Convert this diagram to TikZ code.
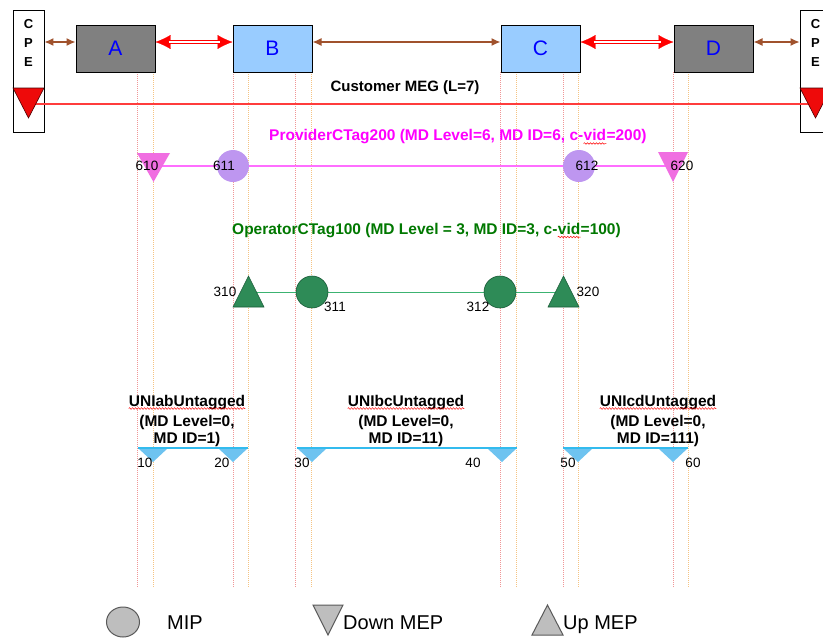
\documentclass[tikz,border=0pt]{standalone}
\usepackage{fontspec}
\setmainfont{Liberation Sans}
\usetikzlibrary{arrows.meta,decorations.pathmorphing}
\definecolor{brownarr}{RGB}{160,82,45}
\definecolor{boxgrey}{RGB}{128,128,128}
\definecolor{boxblue}{RGB}{153,204,255}
\definecolor{megred}{RGB}{255,60,60}
\definecolor{cpered}{RGB}{238,10,10}
\definecolor{guidepink}{RGB}{240,150,150}
\definecolor{guideorange}{RGB}{245,195,130}
\definecolor{provmag}{RGB}{255,0,255}
\definecolor{provline}{RGB}{255,110,255}
\definecolor{provtri}{RGB}{240,110,225}
\definecolor{provmip}{RGB}{190,150,240}
\definecolor{opgreen}{RGB}{0,120,0}
\definecolor{grfill}{RGB}{46,139,87}
\definecolor{grdark}{RGB}{25,90,55}
\definecolor{grline}{RGB}{60,179,113}
\definecolor{unline}{RGB}{51,187,238}
\definecolor{untri}{RGB}{110,195,240}
\definecolor{leggrey}{RGB}{190,190,190}
\definecolor{legdark}{RGB}{90,90,90}
\begin{document}
\begin{tikzpicture}[x=1pt,y=-1pt,
  nebox/.style={draw=black,line width=1pt,minimum width=79pt,minimum height=47pt,inner sep=0pt,text=blue,font=\fontsize{21}{21}\selectfont},
  cpebox/.style={draw=black,line width=0.8pt,fill=white,minimum width=31pt,minimum height=122pt,inner sep=0pt},
  cpetxt/.style={align=center,inner sep=0pt,font=\bfseries\fontsize{13}{19}\selectfont},
  guideA/.style={guidepink,line width=0.9pt,dash pattern=on 1pt off 1pt},
  guideB/.style={guideorange,line width=0.9pt,dash pattern=on 1pt off 1pt},
  brownarrow/.style={brownarr,line width=1.3pt,{Latex[length=9pt,width=8pt]}-{Latex[length=9pt,width=8pt]}},
  redtips/.style={red,line width=0.2pt,{Latex[length=15pt,width=14pt]}-{Latex[length=15pt,width=14pt]}},
  reddouble/.style={red,line width=1.2pt,double=white,double distance=2.4pt,shorten <=13pt,shorten >=13pt},
  megline/.style={megred,line width=1.2pt},
  cpetri/.style={fill=cpered,draw=black!70!red,line width=0.6pt},
  megtxt/.style={inner sep=0pt,font=\bfseries\fontsize{15}{18}\selectfont},
  provtxt/.style={anchor=base west,inner sep=0pt,text=provmag,font=\bfseries\fontsize{15.5}{18}\selectfont},
  optxt/.style={anchor=base west,inner sep=0pt,text=opgreen,font=\bfseries\fontsize{15.5}{18}\selectfont},
  unitxt/.style={anchor=base,inner sep=0pt,font=\bfseries\fontsize{15.5}{18}\selectfont},
  wavy/.style={red,line width=0.5pt,decorate,decoration={snake,amplitude=0.8pt,segment length=3pt}},
  provlink/.style={provline,line width=1.2pt},
  provtrist/.style={fill=provtri},
  provmipst/.style={circle,fill=provmip,minimum size=32pt,inner sep=0pt},
  grlink/.style={grline,line width=1pt},
  grtri/.style={fill=grfill,draw=grdark,line width=0.6pt},
  grmip/.style={circle,fill=grfill,draw=grdark,line width=0.6pt,minimum size=32pt,inner sep=0pt},
  unlink/.style={unline,line width=1.5pt},
  untrist/.style={fill=untri},
  numlbl/.style={inner sep=0pt,font=\fontsize{13.5}{16}\selectfont},
  legshape/.style={fill=leggrey,draw=legdark,line width=1pt},
  legtxt/.style={anchor=base west,inner sep=0pt,font=\fontsize{20}{24}\selectfont}
]
\useasboundingbox (0,0) rectangle (823,638);
\fill[white] (0,0) rectangle (823,638);
\clip (0,0) rectangle (823,638);

% guide lines
\foreach \xa/\xb in {137/153,233/248,295/311,500/516,563/578,673/688}{
  \draw[guideA] (\xa,72) -- (\xa,588);
  \draw[guideB] (\xb,72) -- (\xb,588);
}

% boxes
\node[nebox,fill=boxgrey] (A) at (115.5,48.5) {A};
\node[nebox,fill=boxblue] (B) at (272.5,48.5) {B};
\node[nebox,fill=boxblue] (C) at (540.5,48.5) {C};
\node[nebox,fill=boxgrey] (D) at (713.5,48.5) {D};
\node[cpebox] (cpeL) at (28.5,71) {};
\node[cpetxt] (cpeLt) at (28.5,43) {C\\P\\E};
\node[cpebox] (cpeR) at (815.5,71) {};
\node[cpetxt] (cpeRt) at (815.5,43) {C\\P\\E};

% top connectors
\coordinate (ya) at (0,42);
\draw[brownarrow] (cpeL.east |- ya) -- (A.west |- ya);
\draw[redtips] (A.east |- ya) -- (B.west |- ya);
\draw[reddouble] (A.east |- ya) -- (B.west |- ya);
\draw[brownarrow] (B.east |- ya) -- (C.west |- ya);
\draw[redtips] (C.east |- ya) -- (D.west |- ya);
\draw[reddouble] (C.east |- ya) -- (D.west |- ya);
\draw[brownarrow] (D.east |- ya) -- (cpeR.west |- ya);

% customer MEG
\coordinate (megL) at (30,104);
\coordinate (megR) at (815,104);
\draw[megline] (megL) -- (megR);
\filldraw[cpetri] (13,88) -- (44,88) -- (28.5,118) -- cycle;
\filldraw[cpetri] (800,88) -- (831,88) -- (815.5,118) -- cycle;
\node[megtxt] (megt) at (405,88) {Customer MEG (L=7)};

% provider MEG
\node[provtxt] (pv1) at (269,140.5) {ProviderCTag200 (MD Level=6, MD ID=6, c-};
\node[provtxt] (pv2) at (pv1.base east) {vid};
\node[provtxt] (pv3) at (pv2.base east) {=200)};
\draw[wavy] ([yshift=-3pt]pv2.base west) -- ([yshift=-3pt]pv2.base east);
\coordinate (t610) at (153.5,166);
\coordinate (t620) at (673,166);
\draw[provlink] (t610) -- (t620);
\fill[provtrist] (137,153) -- (170,153) -- (153.5,182) -- cycle;
\fill[provtrist] (658,152) -- (688,152) -- (673,182) -- cycle;
\node[provmipst] (m611) at (233,166) {};
\node[provmipst] (m612) at (579,166) {};
\node[numlbl] (l610) at (147,166) {610};
\node[numlbl] (l611) at (224,166) {611};
\node[numlbl] (l612) at (587,166) {612};
\node[numlbl] (l620) at (682,166) {620};

% operator MEG
\node[optxt] (op1) at (232,234) {OperatorCTag100 (MD Level = 3, MD ID=3, c-};
\node[optxt] (op2) at (op1.base east) {vid};
\node[optxt] (op3) at (op2.base east) {=100)};
\draw[wavy] ([yshift=-3pt]op2.base west) -- ([yshift=-3pt]op2.base east);
\coordinate (t310) at (248.5,292);
\coordinate (t320) at (563.5,292);
\draw[grlink] (t310) -- (t320);
\filldraw[grtri] (233,307) -- (264,307) -- (248.5,276) -- cycle;
\filldraw[grtri] (548,307) -- (579,307) -- (563.5,276) -- cycle;
\node[grmip] (m311) at (312,292) {};
\node[grmip] (m312) at (500,292) {};
\node[numlbl] (l310) at (225,292) {310};
\node[numlbl] (l320) at (588,292) {320};
\node[numlbl] (l311) at (335,307) {311};
\node[numlbl] (l312) at (478,307) {312};

% UNI MEGs
\foreach \cx in {153,233,312,502,578,673}{
  \fill[untrist] ({\cx-15},448) -- ({\cx+15},448) -- (\cx,462) -- cycle;
}
\coordinate (uL1) at (138,448);
\coordinate (uR1) at (248,448);
\coordinate (uL2) at (297,448);
\coordinate (uR2) at (517,448);
\coordinate (uL3) at (563,448);
\coordinate (uR3) at (688,448);
\draw[unlink] (uL1) -- (uR1);
\draw[unlink] (uL2) -- (uR2);
\draw[unlink] (uL3) -- (uR3);

\node[unitxt] (uab1) at (187,406) {UNIabUntagged};
\node[unitxt] (uab2) at (187,426) {(MD Level=0,};
\node[unitxt] (uab3) at (187,443) {MD ID=1)};
\node[unitxt] (ubc1) at (406,406) {UNIbcUntagged};
\node[unitxt] (ubc2) at (406,426) {(MD Level=0,};
\node[unitxt] (ubc3) at (406,443) {MD ID=11)};
\node[unitxt] (ucd1) at (658,406) {UNIcdUntagged};
\node[unitxt] (ucd2) at (658,426) {(MD Level=0,};
\node[unitxt] (ucd3) at (658,443) {MD ID=111)};
\draw[wavy] ([yshift=-2.5pt]uab1.base west) -- ([yshift=-2.5pt]uab1.base east);
\draw[wavy] ([yshift=-2.5pt]ubc1.base west) -- ([yshift=-2.5pt]ubc1.base east);
\draw[wavy] ([yshift=-2.5pt]ucd1.base west) -- ([yshift=-2.5pt]ucd1.base east);

\node[numlbl] (l10) at (145,463) {10};
\node[numlbl] (l20) at (222,463) {20};
\node[numlbl] (l30) at (302,463) {30};
\node[numlbl] (l40) at (473,463) {40};
\node[numlbl] (l50) at (568,463) {50};
\node[numlbl] (l60) at (693,463) {60};

% legend
\draw[legshape] (123,622) ellipse [x radius=16.5pt, y radius=15pt];
\node[legtxt] (legmip) at (167,629) {MIP};
\filldraw[legshape] (313,605) -- (343,605) -- (328,635) -- cycle;
\node[legtxt] (legdown) at (343,629) {Down MEP};
\filldraw[legshape] (532,635) -- (563,635) -- (547.5,605) -- cycle;
\node[legtxt] (legup) at (563,629) {Up MEP};
\end{tikzpicture}
\end{document}
